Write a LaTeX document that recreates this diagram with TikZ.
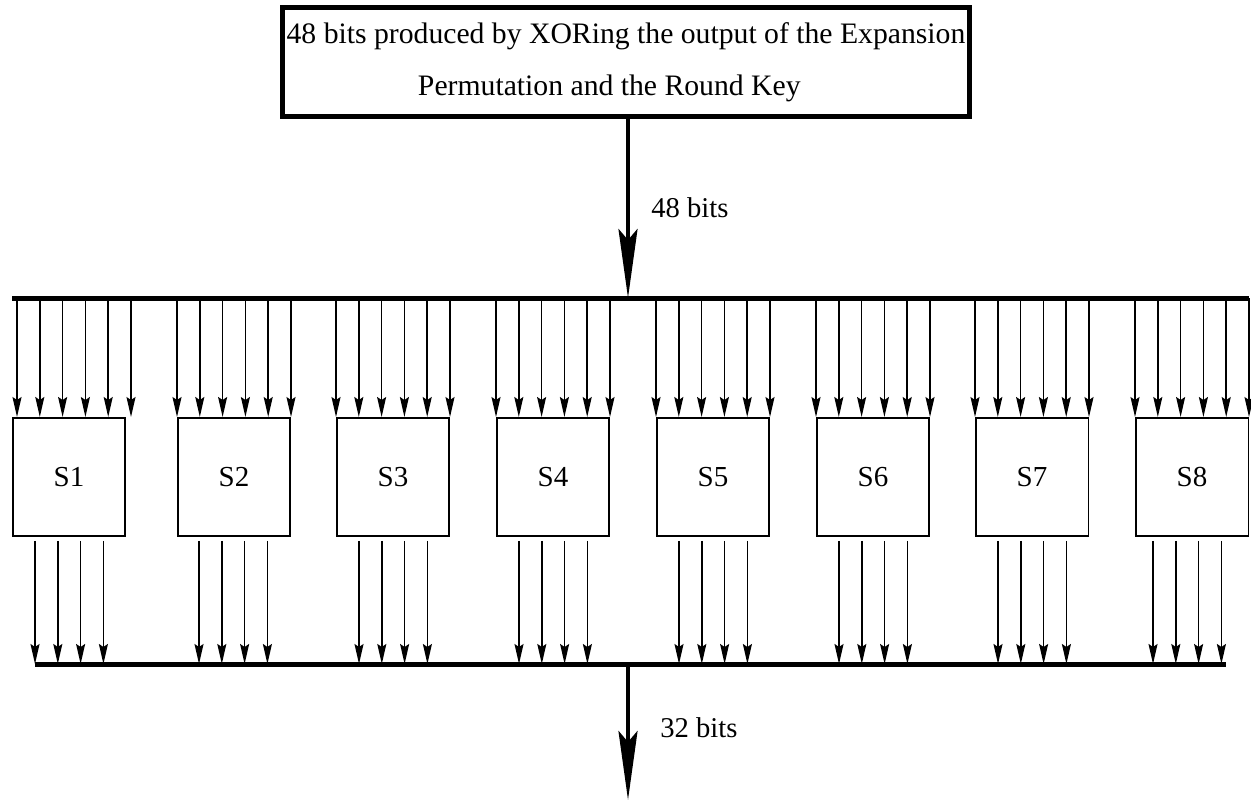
\documentclass[tikz,border=0pt]{standalone}
\usepackage{fontspec}
\setmainfont{Liberation Serif}
\usetikzlibrary{arrows.meta,calc}

\begin{document}
\begin{tikzpicture}[x=0.02cm,y=-0.02cm,
        topbox/.style={draw,line width=0.1cm,minimum width=13.74cm,minimum height=2.2cm,
                       align=center,inner sep=0pt,font=\fontsize{16.9}{29.6}\selectfont},
        sbox/.style={draw,line width=0.03cm,minimum width=2.25cm,minimum height=2.37cm,
                     inner sep=0pt,font=\fontsize{16.5}{18}\selectfont},
        bus/.style={line width=0.1cm},
        bigarr/.style={line width=0.09cm,-{Stealth[length=1.38cm,width=0.38cm,inset=0.22cm]}},
        bitarr/.style={line width=0.03cm,-{Stealth[length=0.4cm,width=0.18cm,inset=0.06cm]}},
        lbl/.style={anchor=west,inner sep=0pt,font=\fontsize{16.3}{18}\selectfont}]
    \useasboundingbox (0,0) rectangle (1251,801);
    \node[topbox] (src) at (626,62) {48 bits produced by XORing the output of the Expansion\\Permutation and the Round Key\hspace*{19pt}};
    \coordinate (tl) at (12,298); \coordinate (tr) at (1249,298);
    \coordinate (bl) at (35,664); \coordinate (br) at (1226,664);
    \coordinate (out) at (628,800);
    \draw[bus] (tl) -- (tr);
    \draw[bus] (bl) -- (br);
    \draw[bigarr] (src.south -| out) -- (out |- tl);
    \node[lbl] (in48) at (651,208) {48 bits};
    \draw[bigarr] (out |- bl) -- (out);
    \node[lbl] (out32) at (660,728) {32 bits};
    \foreach \i/\x/\a/\b in {1/12/5/23,2/177/0/22,3/336/0/23,4/496/0/23,5/656/0/23,6/816/0/23,7/975/0/23,8/1135/0/18}{
        \node[sbox] (s\i) at (\x+57,477) {S\i};
        \foreach \k in {0,...,5}
            \draw[bitarr] ($(s\i.north west)+(\a+22.8*\k,-119)$) -- +(0,119);
        \foreach \k in {0,...,3}
            \draw[bitarr] ($(s\i.south west)+(\b+22.8*\k,4)$) -- +(0,123);
    }
\end{tikzpicture}
\end{document}
